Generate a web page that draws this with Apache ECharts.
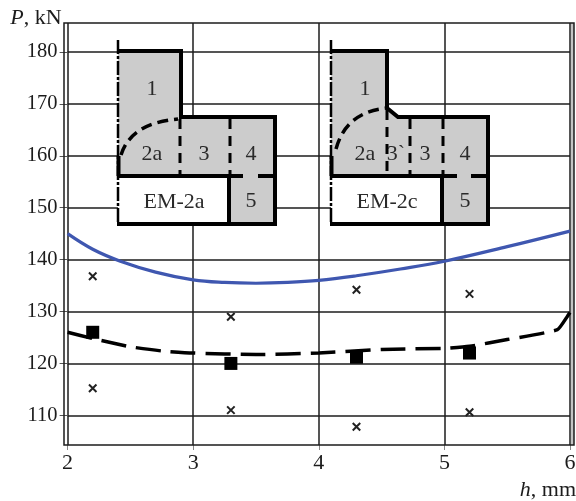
<!DOCTYPE html>
<html><head><meta charset="utf-8">
<style>html,body{margin:0;padding:0;background:#fff}#c{width:576px;height:501px}</style>
<script src="https://cdn.jsdelivr.net/npm/echarts@6/dist/echarts.min.js"></script>
</head><body><div id="c"></div>
<script>
const xTicks=[2,3,4,5,6];
const yTicks=[110,120,130,140,150,160,170,180];
const blueX=[2,2.2,2.42,2.7,3,3.25,3.5,3.75,4,4.3,4.65,5,5.5,6];
const blueY=[145,142,139.7,137.6,136.1,135.6,135.45,135.6,136,136.9,138.2,139.7,142.5,145.5];
const dashX=[2,2.2,2.5,2.75,3,3.5,4,4.5,5,5.2,5.5,5.9,5.98,6.03];
const dashY=[126,124.8,123.2,122.4,122,121.7,122,122.7,122.9,123.3,124.6,126.5,129.1,130.9];
const squareX=[2.2,3.3,4.3,5.2];
const squareY=[126,120,121.2,122];
const crossX=[2.2,2.2,3.3,3.3,4.3,4.3,5.2,5.2];
const crossY=[136.8,115.2,129,111,134.2,107.8,133.4,110.6];
const zip=(a,b)=>a.map((v,i)=>[v,b[i]]);
const F='"Liberation Serif"',INK='#1c1c1c',GR='#cccccc';
const g=[];
const poly=(pts,w,extra={})=>g.push({type:'polyline',z:10,shape:{points:pts},style:Object.assign({stroke:'#000',lineWidth:w,fill:null},extra)});
const txt=(x,y,t)=>g.push({type:'text',z:12,x,y,style:{text:t,font:'22px '+F,fill:'#2a2a2a',align:'center',verticalAlign:'middle'}});
// plot frame and grey strip at right
g.push({type:'rect',z:1,shape:{x:571,y:23,width:3,height:422},style:{fill:'#c4c4c4'}});
g.push({type:'rect',z:9,shape:{x:64,y:23,width:510,height:422},style:{fill:null,stroke:INK,lineWidth:1.5}});
function inset(o){
 g.push({type:'polygon',z:9,shape:{points:o.shape},style:{fill:GR}});
 g.push({type:'rect',z:9,shape:{x:o.l,y:176,width:o.b5-o.l,height:48},style:{fill:'#fff'}});
 poly(o.outline,4);
 poly([[o.l-1,224],[o.r+2,224]],4);
 poly([[o.b5,176],[o.b5,224]],4);
 poly([[o.l,176],[o.gap[0],176]],4);
 poly([[o.gap[1],176],[o.r,176]],4);
 poly([[o.l+.5,156],[o.l+.5,176]],4);
 poly([[o.l,40],[o.l,224]],2.5,{lineDash:[14,2,3,2]});
 o.v.forEach(v=>poly([[v[0],v[1]],[v[0],176]],3,{lineDash:[10,7]}));
 g.push({type:'bezierCurve',z:10,shape:o.arc,style:{stroke:'#000',lineWidth:3.5,fill:null,lineDash:[11,6]}});
 o.t.forEach(t=>txt(t[0],t[1],t[2]));
}
inset({l:118,r:275,b5:229,gap:[243,258],
 shape:[[118,51],[181,51],[181,117],[275,117],[275,224],[229,224],[229,176],[118,176]],
 outline:[[118,51],[181,51],[181,117],[275,117],[275,224]],
 v:[[180,119],[230,119]],arc:{x1:121,y1:155,cpx1:131,cpy1:123,x2:178,y2:119},
 t:[[152,89,'1'],[152,154,'2a'],[204,154,'3'],[251,154,'4'],[251,201,'5'],[174,202,'EM-2a']]});
inset({l:331,r:488,b5:442,gap:[457,471],
 shape:[[331,51],[387,51],[387,108],[398,117],[488,117],[488,224],[442,224],[442,176],[331,176]],
 outline:[[331,51],[387,51],[387,108],[398,117],[488,117],[488,224]],
 v:[[387,110],[410,119],[443,119]],arc:{x1:336,y1:149,cpx1:346,cpy1:112,x2:387,y2:108},
 t:[[365,89,'1'],[365,154,'2a'],[396,154,'3`'],[425,154,'3'],[465,154,'4'],[465,201,'5'],[387,202,'EM-2c']]});
const chart=echarts.init(document.getElementById('c'),null,{renderer:'canvas'});
chart.setOption({
 animation:false,backgroundColor:'#fff',
 grid:{left:67.6,right:6,top:23,bottom:56,containLabel:false,outerBoundsMode:'none'},
 xAxis:{type:'value',min:2,max:6,
  name:'{i|h}, mm',nameLocation:'end',nameGap:0,
  nameTextStyle:{fontFamily:F,fontSize:22,color:INK,align:'right',verticalAlign:'top',padding:[34,-6,0,0],
   rich:{i:{fontFamily:F,fontStyle:'italic',fontSize:22,color:INK}}},
  axisLine:{show:false},
  axisTick:{show:true,length:5,lineStyle:{color:'#888',width:1},customValues:xTicks},
  axisLabel:{customValues:xTicks,margin:7,fontFamily:F,fontSize:22,color:INK,hideOverlap:false,showMinLabel:true,showMaxLabel:true,alignMaxLabel:'center',alignMinLabel:'center'},
  splitLine:{show:true,lineStyle:{color:INK,width:1.5}}},
 yAxis:{type:'value',min:104.28,max:185.6,
  name:'{i|P}, kN',nameLocation:'end',nameGap:0,
  nameTextStyle:{fontFamily:F,fontSize:22,color:INK,align:'right',verticalAlign:'bottom',padding:[0,6,-6,0],
   rich:{i:{fontFamily:F,fontStyle:'italic',fontSize:22,color:INK}}},
  axisLine:{show:false},
  axisTick:{show:true,length:8,lineStyle:{color:'#555',width:1},customValues:yTicks},
  axisLabel:{customValues:yTicks,margin:10,fontFamily:F,fontSize:20.5,color:INK},
  splitLine:{show:true,lineStyle:{color:INK,width:1.5}}},
 series:[
  {type:'line',name:'blue',data:zip(blueX,blueY),smooth:0.4,symbol:'none',lineStyle:{color:'#3f57b0',width:3.2},z:4},
  {type:'line',name:'dash',data:zip(dashX,dashY),smooth:0.15,symbol:'none',lineStyle:{color:'#000',width:3.5,type:[25,10]},z:4,clip:false},
  {type:'scatter',name:'mean',data:zip(squareX,squareY),symbol:'rect',symbolSize:13,itemStyle:{color:'#000',opacity:1},z:5},
  {type:'scatter',name:'tests',data:zip(crossX,crossY),symbol:'path://M0 0L10 10M0 10L10 0',symbolSize:7.5,
   itemStyle:{color:'none',borderColor:'#222',borderWidth:2,opacity:1},z:5}
 ],
 graphic:g
});
</script></body></html>
